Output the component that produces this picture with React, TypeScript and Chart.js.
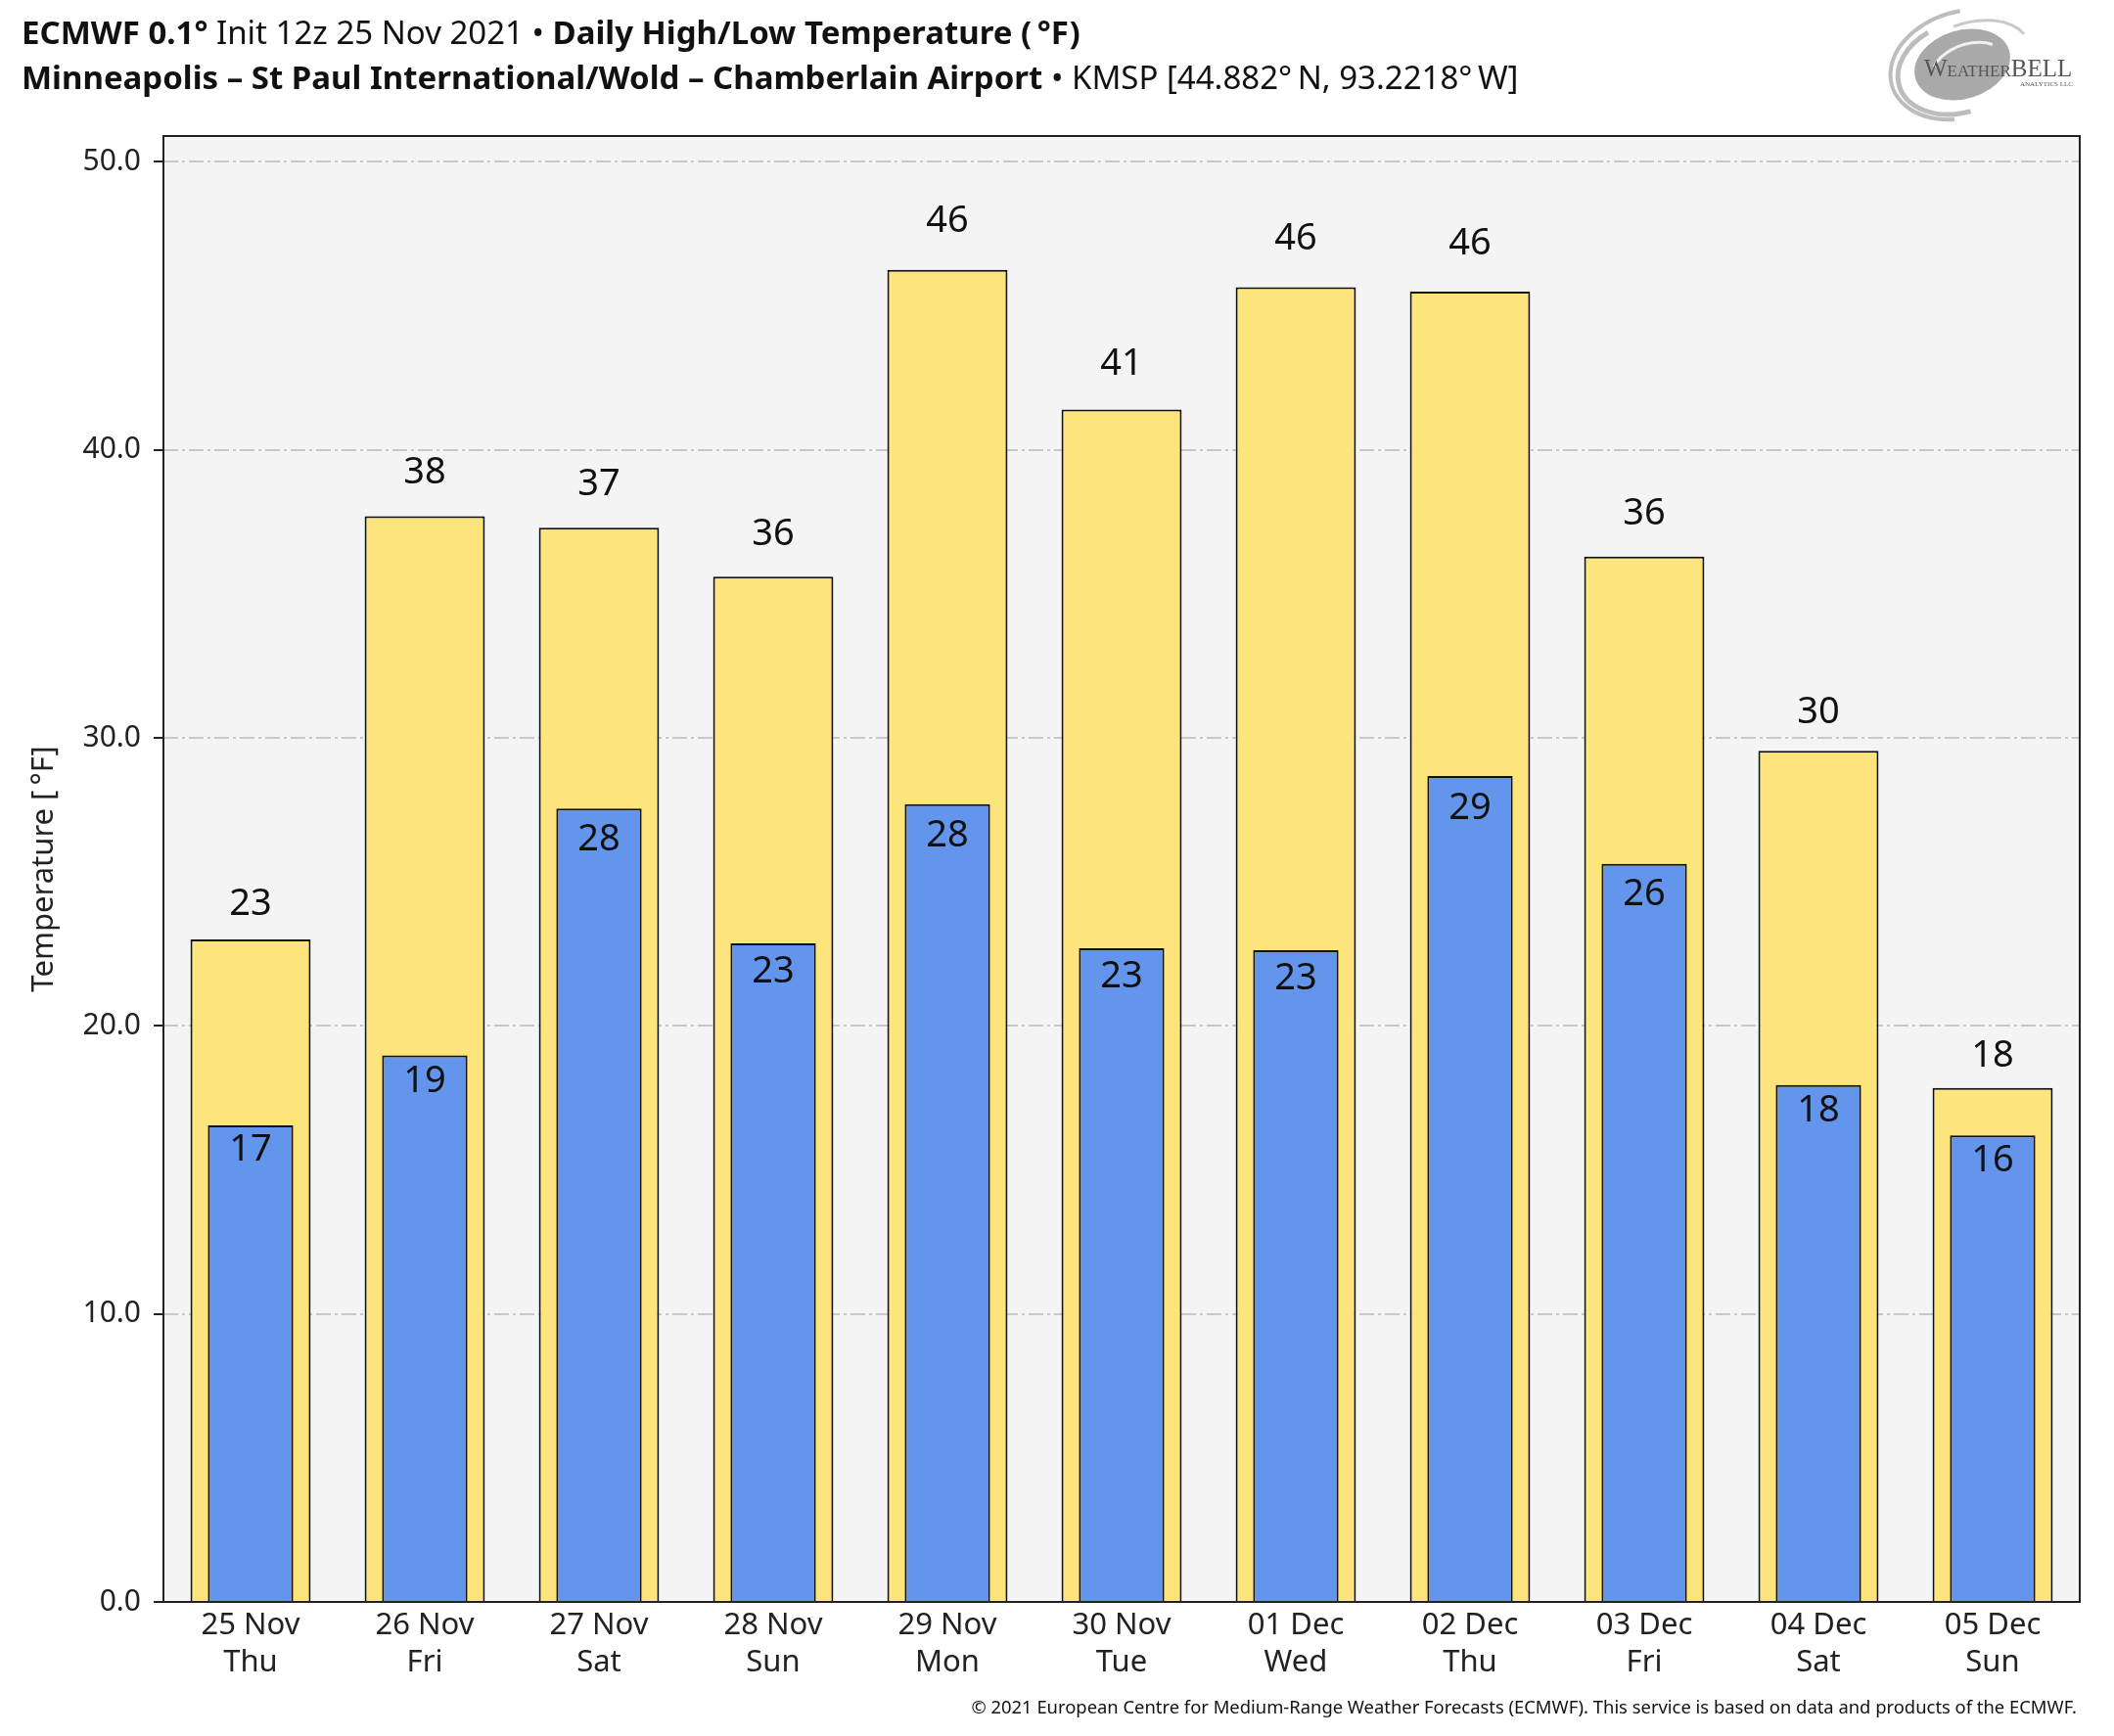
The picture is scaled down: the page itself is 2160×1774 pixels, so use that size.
import { useEffect, useRef } from 'react';
import { Chart, registerables } from 'chart.js';

Chart.register(...registerables);

const categories: string[][] = [
  ['25 Nov', 'Thu'], ['26 Nov', 'Fri'], ['27 Nov', 'Sat'], ['28 Nov', 'Sun'],
  ['29 Nov', 'Mon'], ['30 Nov', 'Tue'], ['01 Dec', 'Wed'], ['02 Dec', 'Thu'],
  ['03 Dec', 'Fri'], ['04 Dec', 'Sat'], ['05 Dec', 'Sun'],
];
const highTemps = [23.0, 37.7, 37.3, 35.6, 46.25, 41.4, 45.65, 45.5, 36.3, 29.55, 17.85];
const lowTemps = [16.55, 18.98, 27.55, 22.87, 27.7, 22.7, 22.63, 28.68, 25.63, 17.95, 16.2];
const yMin = 0;
const yMax = 50.9;
const yStep = 10;

const FONT = '"Noto Sans", "Open Sans", sans-serif';

const W = 2160;
const H = 1774;

const backgroundPlugin = {
  id: 'plotBg',
  beforeDraw(chart: any) {
    const { ctx, chartArea: a } = chart;
    ctx.save();
    ctx.fillStyle = '#ffffff';
    ctx.fillRect(0, 0, chart.width, chart.height);
    ctx.fillStyle = '#f4f4f4';
    ctx.fillRect(a.left, a.top, a.right - a.left, a.bottom - a.top);
    ctx.restore();
  },
};

const labelsPlugin = {
  id: 'barLabels',
  afterDatasetsDraw(chart: any) {
    const { ctx } = chart;
    const y = chart.scales.y;
    ctx.save();
    ctx.font = `38px ${FONT}`;
    ctx.fillStyle = '#111';
    ctx.textAlign = 'center';
    ctx.textBaseline = 'middle';
    chart.data.datasets.forEach((ds: any, di: number) => {
      const meta = chart.getDatasetMeta(di);
      meta.data.forEach((el: any, i: number) => {
        const v = ds.data[i] as number;
        const txt = String(Math.round(v));
        if (ds.label === 'High') {
          ctx.fillText(txt, el.x, y.getPixelForValue(v * 1.02) - 22);
        } else {
          ctx.fillText(txt, el.x, y.getPixelForValue(v * 0.98) + 16);
        }
      });
    });
    const a = chart.chartArea;
    ctx.strokeStyle = '#222';
    ctx.lineWidth = 2;
    ctx.strokeRect(a.left, a.top, a.right - a.left, a.bottom - a.top);
    ctx.restore();
  },
};

function drawSegments(ctx: any, x: number, y: number, segs: [string, string][]) {
  let cx = x;
  for (const [font, text] of segs) {
    ctx.font = font;
    ctx.fillText(text, cx, y);
    cx += ctx.measureText(text).width;
  }
}

const decorPlugin = {
  id: 'decor',
  afterDraw(chart: any) {
    const { ctx } = chart;
    ctx.save();
    ctx.fillStyle = '#111';
    ctx.textAlign = 'left';
    ctx.textBaseline = 'alphabetic';
    const B = `bold 33px ${FONT}`;
    const R = `33px ${FONT}`;
    drawSegments(ctx, 22, 45, [
      [B, 'ECMWF 0.1°'], [R, ' Init 12z 25 Nov 2021 • '], [B, 'Daily High/Low Temperature (\u2009°F)'],
    ]);
    drawSegments(ctx, 22, 91, [
      [B, 'Minneapolis – St Paul International/Wold – Chamberlain Airport'], [R, ' • KMSP [44.882°\u2009N, 93.2218°\u2009W]'],
    ]);
    ctx.font = `18.4px ${FONT}`;
    ctx.textAlign = 'right';
    ctx.fillText('© 2021 European Centre for Medium-Range Weather Forecasts (ECMWF). This service is based on data and products of the ECMWF.', 2122, 1751);

    // logo
    ctx.save();
    ctx.translate(2005, 66);
    ctx.rotate(-0.3);
    ctx.fillStyle = '#a9a9a9';
    ctx.beginPath();
    ctx.ellipse(0, 0, 50, 35, 0, 0, Math.PI * 2);
    ctx.fill();
    ctx.strokeStyle = '#bdbdbd';
    ctx.lineWidth = 5;
    ctx.beginPath();
    ctx.ellipse(-4, 2, 64, 46, 0, 1.6, 4.4);
    ctx.stroke();
    ctx.lineWidth = 4;
    ctx.beginPath();
    ctx.ellipse(0, 0, 75, 54, 0, 1.9, 4.9);
    ctx.stroke();
    ctx.strokeStyle = '#c8c8c8';
    ctx.lineWidth = 3;
    ctx.beginPath();
    ctx.ellipse(10, 0, 62, 40, 0, 4.6, 6.0);
    ctx.stroke();
    ctx.strokeStyle = '#f0f0f0';
    ctx.lineWidth = 3;
    ctx.beginPath();
    ctx.ellipse(6, 4, 38, 23, 0, 3.6, 5.6);
    ctx.stroke();
    ctx.restore();
    ctx.textAlign = 'left';
    ctx.fillStyle = '#555';
    drawSegments(ctx, 1966, 78, [
      ['25px "Liberation Serif", serif', 'W'],
      ['17px "Liberation Serif", serif', 'EATHER'],
      ['25px "Liberation Serif", serif', 'BELL'],
    ]);
    ctx.font = '7px "Liberation Serif", serif';
    ctx.fillText('ANALYTICS LLC', 2064, 88);
    ctx.restore();
  },
};

export default function App() {
  const ref = useRef<HTMLCanvasElement | null>(null);
  useEffect(() => {
    if (!ref.current) return;
    const chart = new Chart(ref.current, {
      type: 'bar',
      data: {
        labels: categories,
        datasets: [
          {
            label: 'Low',
            data: lowTemps,
            backgroundColor: '#6495ed',
            borderColor: '#111',
            borderWidth: 2,
            barPercentage: 0.49,
            categoryPercentage: 1,
            grouped: false,
            order: 0,
          },
          {
            label: 'High',
            data: highTemps,
            backgroundColor: '#fde47d',
            borderColor: '#111',
            borderWidth: 2,
            barPercentage: 0.69,
            categoryPercentage: 1,
            grouped: false,
            order: 1,
          },
        ],
      },
      options: {
        responsive: false,
        animation: false,
        devicePixelRatio: 1,
        layout: { padding: { top: 139, right: 35, left: 0, bottom: 0 } },
        plugins: { legend: { display: false }, tooltip: { enabled: false }, title: { display: false } },
        scales: {
          x: {
            grid: { display: false, drawTicks: false },
            border: { display: false },
            ticks: { color: '#222', font: { family: FONT, size: 31, lineHeight: 1.2 }, padding: 6, maxRotation: 0, autoSkip: false },
            afterFit: (s: any) => { s.height = 137; },
          },
          y: {
            min: yMin,
            max: yMax,
            grid: {
              color: (c: any) => (c.tick && c.tick.value === 0 ? 'rgba(0,0,0,0)' : '#c8c8c8'),
              lineWidth: 2,
              tickLength: 10,
              tickColor: '#222',
              tickWidth: 2,
            },
            border: { display: false, dash: [15, 4, 3, 4] },
            ticks: {
              stepSize: yStep,
              includeBounds: false,
              color: '#222',
              font: { family: FONT, size: 30 },
              padding: 13,
              callback: (v: any) => Number(v).toFixed(1),
            },
            title: {
              display: true,
              text: 'Temperature [\u2009°F]',
              color: '#222',
              font: { family: FONT, size: 31 },
              padding: { top: 27, bottom: 0 },
            },
            afterFit: (s: any) => { s.width = 167; },
          },
        },
      },
      plugins: [backgroundPlugin, labelsPlugin, decorPlugin],
    });
    return () => chart.destroy();
  }, []);
  return (
    <div style={{ position: 'absolute', left: 0, top: 0, width: W, height: H, background: '#fff' }}>
      <canvas ref={ref} width={W} height={H} style={{ display: 'block', width: W, height: H }} />
    </div>
  );
}
